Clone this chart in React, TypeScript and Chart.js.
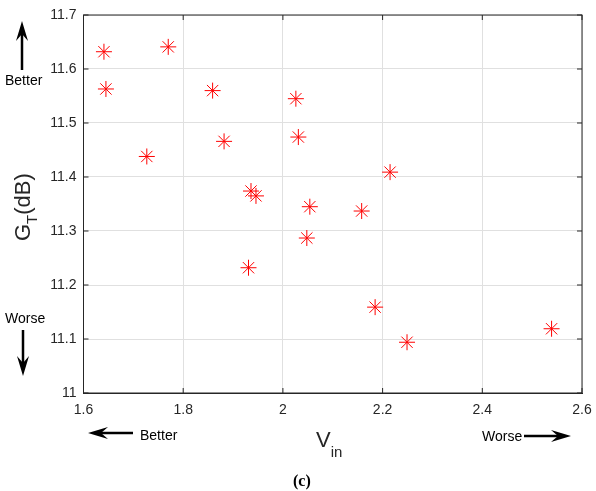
import { useEffect, useRef } from "react";
import { Chart, registerables } from "chart.js";

Chart.register(...registerables);

const vin = [1.641, 1.645, 1.770, 1.727, 1.859, 1.882, 1.936, 1.946, 2.026, 2.031, 2.054, 2.215, 2.158, 2.048, 1.931, 2.185, 2.249, 2.539];
const gt = [11.632, 11.563, 11.641, 11.438, 11.560, 11.466, 11.374, 11.365, 11.545, 11.474, 11.345, 11.409, 11.337, 11.287, 11.232, 11.159, 11.094, 11.119];
const xTicks = [1.6, 1.8, 2.0, 2.2, 2.4, 2.6];
const yTicks = [11.0, 11.1, 11.2, 11.3, 11.4, 11.5, 11.6, 11.7];

const FONT = "'Liberation Sans', Arial, Helvetica, sans-serif";
const AXIS = "#262626";

function arrow(ctx: CanvasRenderingContext2D, x1: number, y1: number, x2: number, y2: number) {
  const dx = x2 - x1, dy = y2 - y1;
  const len = Math.hypot(dx, dy);
  const ux = dx / len, uy = dy / len;
  const px = -uy, py = ux;
  const headLen = 20, headW = 6, notch = 13;
  ctx.save();
  ctx.strokeStyle = "#000";
  ctx.fillStyle = "#000";
  ctx.lineWidth = 2.5;
  ctx.beginPath();
  ctx.moveTo(x1, y1);
  ctx.lineTo(x2 - ux * notch, y2 - uy * notch);
  ctx.stroke();
  ctx.beginPath();
  ctx.moveTo(x2, y2);
  ctx.lineTo(x2 - ux * headLen + px * headW, y2 - uy * headLen + py * headW);
  ctx.lineTo(x2 - ux * notch, y2 - uy * notch);
  ctx.lineTo(x2 - ux * headLen - px * headW, y2 - uy * headLen - py * headW);
  ctx.closePath();
  ctx.fill();
  ctx.restore();
}

const decorPlugin = {
  id: "decor",
  afterDraw(chart: any) {
    const ctx: CanvasRenderingContext2D = chart.ctx;
    const { left, right, top, bottom } = chart.chartArea;
    const xs = chart.scales.x, ys = chart.scales.y;
    ctx.save();
    ctx.strokeStyle = AXIS;
    ctx.lineWidth = 1;
    ctx.strokeRect(left, top, right - left, bottom - top);
    ctx.beginPath();
    xTicks.forEach((v) => {
      const x = xs.getPixelForValue(v);
      ctx.moveTo(x, top); ctx.lineTo(x, top + 5);
      ctx.moveTo(x, bottom); ctx.lineTo(x, bottom - 5);
    });
    yTicks.forEach((v) => {
      const y = ys.getPixelForValue(v);
      ctx.moveTo(right, y); ctx.lineTo(right - 5, y);
      ctx.moveTo(left, y); ctx.lineTo(left + 5, y);
    });
    ctx.stroke();

    ctx.fillStyle = AXIS;
    ctx.textBaseline = "alphabetic";
    ctx.textAlign = "left";
    ctx.save();
    ctx.translate(30, 241);
    ctx.rotate(-Math.PI / 2);
    ctx.font = `22px ${FONT}`;
    ctx.fillText("G", 0, 0);
    let w = ctx.measureText("G").width;
    ctx.font = `15px ${FONT}`;
    ctx.fillText("T", w, 7);
    w += ctx.measureText("T").width;
    ctx.font = `22px ${FONT}`;
    ctx.fillText("(dB)", w, 0);
    ctx.restore();

    ctx.font = `22px ${FONT}`;
    ctx.fillText("V", 316, 447);
    const vw = ctx.measureText("V").width;
    ctx.font = `15px ${FONT}`;
    ctx.fillText("in", 316 + vw, 457);

    ctx.fillStyle = "#000";
    ctx.font = `14px ${FONT}`;
    ctx.fillText("Better", 5, 85);
    ctx.fillText("Worse", 5, 323);
    ctx.fillText("Better", 140, 440);
    ctx.fillText("Worse", 482, 441);
    arrow(ctx, 22, 70, 22, 21);
    arrow(ctx, 23, 330, 23, 376);
    arrow(ctx, 133, 433, 88, 433);
    arrow(ctx, 524, 436, 571, 436);

    ctx.font = `bold 16px 'Liberation Serif', 'Times New Roman', serif`;
    ctx.fillText("(c)", 293, 486);
    ctx.restore();
  },
};

export default function App() {
  const ref = useRef<HTMLCanvasElement | null>(null);
  useEffect(() => {
    if (!ref.current) return;
    const chart = new Chart(ref.current, {
      type: "scatter",
      data: {
        datasets: [
          {
            data: vin.map((x, i) => ({ x, y: gt[i] })),
            pointStyle: "star",
            radius: 8,
            borderColor: "#ff0000",
            backgroundColor: "#ff0000",
            borderWidth: 1,
          },
        ],
      },
      options: {
        responsive: false,
        animation: false,
        devicePixelRatio: 1,
        layout: { padding: { top: 15, right: 14, left: 0, bottom: 0 } },
        plugins: { legend: { display: false }, tooltip: { enabled: false } },
        scales: {
          x: {
            type: "linear",
            min: 1.6,
            max: 2.6,
            afterBuildTicks: (s: any) => { s.ticks = xTicks.map((value) => ({ value })); },
            afterFit: (s: any) => { s.height = 98; s.paddingLeft = 0; s.paddingRight = 0; },
            grid: { color: "#e0e0e0", drawTicks: false },
            border: { color: AXIS, width: 1 },
            ticks: {
              color: AXIS,
              padding: 9,
              font: { family: FONT, size: 14 },
              callback: (v: any) => String(Math.round(v * 10) / 10),
            },
          },
          y: {
            type: "linear",
            min: 11,
            max: 11.7,
            afterBuildTicks: (s: any) => { s.ticks = yTicks.map((value) => ({ value })); },
            afterFit: (s: any) => { s.width = 83.5; s.paddingTop = 0; s.paddingBottom = 0; },
            grid: { color: "#e0e0e0", drawTicks: false },
            border: { color: AXIS, width: 1 },
            ticks: {
              color: AXIS,
              padding: 7,
              font: { family: FONT, size: 14 },
              callback: (v: any) => String(Math.round(v * 10) / 10),
            },
          },
        },
      },
      plugins: [decorPlugin],
    });
    return () => chart.destroy();
  }, []);
  return (
    <div style={{ position: "absolute", left: 0, top: 0, width: 596, height: 491, background: "#fff" }}>
      <canvas ref={ref} width={596} height={491} />
    </div>
  );
}
